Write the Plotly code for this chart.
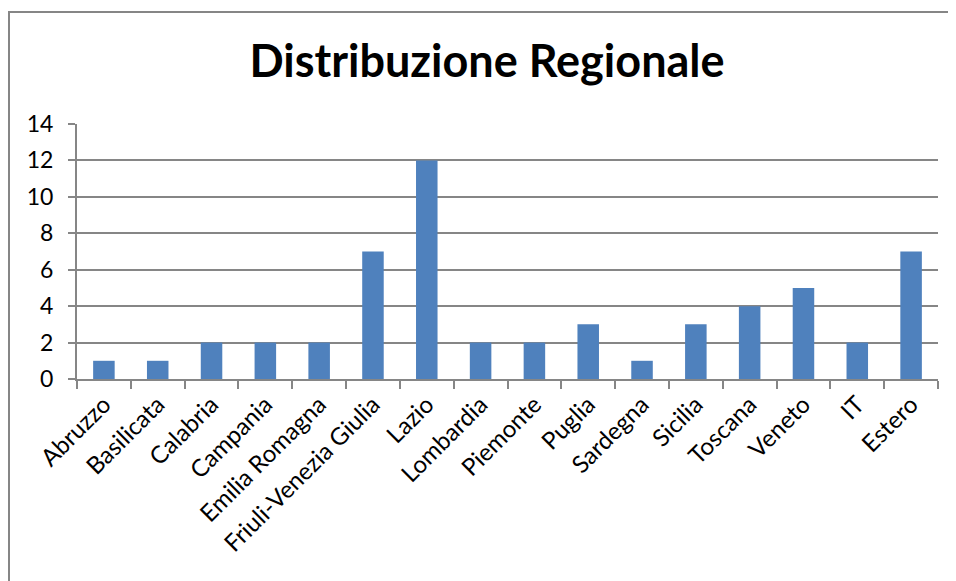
import plotly.graph_objects as go

regions = ["Abruzzo", "Basilicata", "Calabria", "Campania", "Emilia Romagna",
           "Friuli-Venezia Giulia", "Lazio", "Lombardia", "Piemonte", "Puglia",
           "Sardegna", "Sicilia", "Toscana", "Veneto", "IT", "Estero"]
counts = [1, 1, 2, 2, 2, 7, 12, 2, 2, 3, 1, 3, 4, 5, 2, 7]
y_ticks = [0, 2, 4, 6, 8, 10, 12, 14]

W, H = 956, 581
OFF = 8  # page body margin
L, R, T, B = 77 - OFF, 938 - OFF, 124 - OFF, 379 - OFF

fig = go.Figure(go.Bar(x=regions, y=counts, marker=dict(color="#4F81BD", line=dict(width=0))))

def px2paper_x(px):
    return (px - L) / (R - L)

def px2paper_y(py):
    return (B - py) / (B - T)

fig.update_layout(
    width=W, height=H,
    margin=dict(l=L, r=W - R, t=T, b=H - B, pad=0),
    paper_bgcolor="white", plot_bgcolor="white",
    font=dict(family="Lato", size=24, color="black"),
    bargap=0.6,
    showlegend=False,
    title=dict(text="<b>Distribuzione Regionale</b>", x=479 / W, xanchor="center",
               y=1 - 53 / H, yanchor="middle", font=dict(family="Lato", size=45, color="black")),
    xaxis=dict(type="category", tickangle=-45, ticks="outside", tickson="boundaries",
               ticklen=8, tickcolor="#868686", tickwidth=2, showline=True, linecolor="#868686", linewidth=2,
               showgrid=False, tickfont=dict(size=24)),
    yaxis=dict(range=[0, 14], tickvals=y_ticks, ticks="outside", ticklen=7, tickcolor="#868686",
               tickwidth=2, showline=True, linecolor="#868686", linewidth=2, showgrid=True,
               gridcolor="#868686", gridwidth=1.5, zeroline=False, tickfont=dict(size=23),
               ticklabelstandoff=10),
    shapes=[
        dict(type="line", xref="paper", yref="paper", x0=px2paper_x(0), x1=px2paper_x(990),
             y0=px2paper_y(4), y1=px2paper_y(4), line=dict(color="#868686", width=2)),
        dict(type="line", xref="paper", yref="paper", x0=px2paper_x(1), x1=px2paper_x(1),
             y0=px2paper_y(4), y1=px2paper_y(600), line=dict(color="#868686", width=2)),
    ],
)

fig.write_html("out.html")
